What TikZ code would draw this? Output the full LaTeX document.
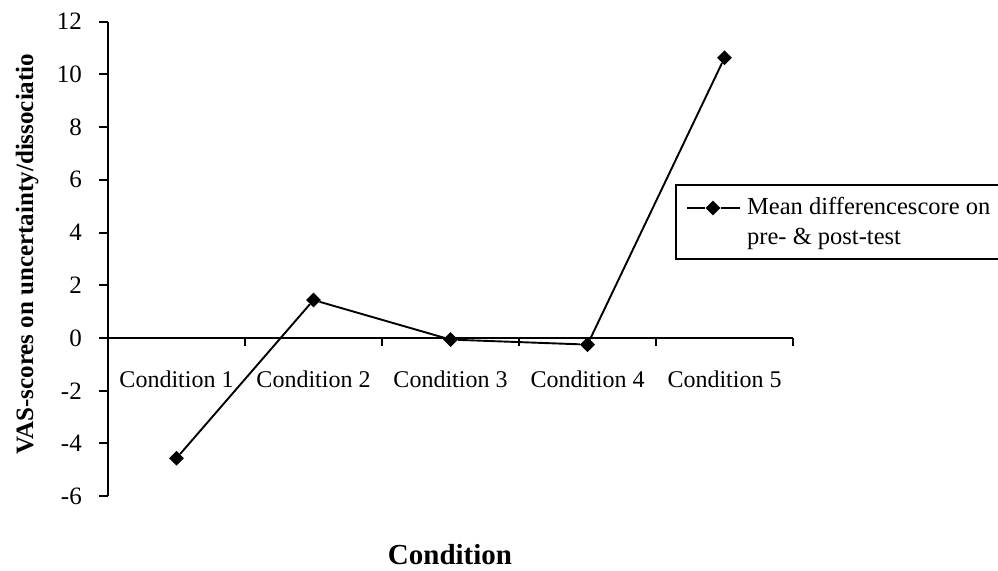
\documentclass[tikz,border=0pt]{standalone}
\usepackage{fontspec}
\setmainfont{Liberation Serif}
\usetikzlibrary{shapes.geometric}

\begin{document}
\begin{tikzpicture}[x=1pt, y=1pt, every node/.style={inner sep=0pt},
    axisline/.style={line width=1.9pt},
    ticklab/.style={anchor=east, font=\fontsize{25}{30}\selectfont},
    catlab/.style={anchor=base, font=\fontsize{24}{28}\selectfont},
    datamark/.style={diamond, fill=black, minimum size=15pt}]
    \useasboundingbox (0,0) rectangle (998,-570);

    \begin{scope}[shift={(108,-338)}, x=137pt, y=26.36pt]
        % Axes
        \draw[axisline] (0,-6) -- (0,12);
        \draw[axisline] (-9pt,0) -- (5,0);
        \foreach \v [count=\i] in {-6,-4,...,12} {
            \draw[axisline] (0,\v) -- ++(-9pt,0);
            \node[ticklab] (tick\i) at ([xshift=-26pt]0,\v) {\v};
        }
        \foreach \i in {1,...,5} {
            \draw[axisline] (\i,0) -- ++(0,-8pt);
            \node[catlab] (cat\i) at ([yshift=-49pt]\i-0.5,0) {Condition \i};
        }

        % Mean difference per condition
        \foreach \v [count=\i] in {-4.56,1.44,-0.06,-0.25,10.63}
            \node[datamark] (c\i) at (\i-0.5,\v) {};
        \draw[line width=1.9pt] (c1) -- (c2) -- (c3) -- (c4) -- (c5);
    \end{scope}

    % Axis titles
    \node[rotate=90, anchor=base, font=\bfseries\fontsize{25}{28}\selectfont] (ytitle) at (33,-254) {VAS-scores on uncertainty/dissociatio};
    \node[anchor=base, font=\bfseries\fontsize{29}{32}\selectfont] (xtitle) at (450,-564) {Condition};

    % Legend
    \node[draw, line width=1.6pt, anchor=north west, minimum width=323pt, minimum height=74pt] (legbox) at (675,-184) {};
    \coordinate (legl) at (687,-208);
    \coordinate (legr) at (740,-208);
    \node[datamark] (legm) at (713,-208) {};
    \draw[line width=1.9pt] (legl) -- (legm) -- (legr);
    \node[anchor=base west, font=\fontsize{24.5}{28}\selectfont] (leg1) at (747,-214) {Mean differencescore on};
    \node[anchor=base west, font=\fontsize{24.5}{28}\selectfont] (leg2) at (747,-244) {pre- \& post-test};
\end{tikzpicture}
\end{document}
